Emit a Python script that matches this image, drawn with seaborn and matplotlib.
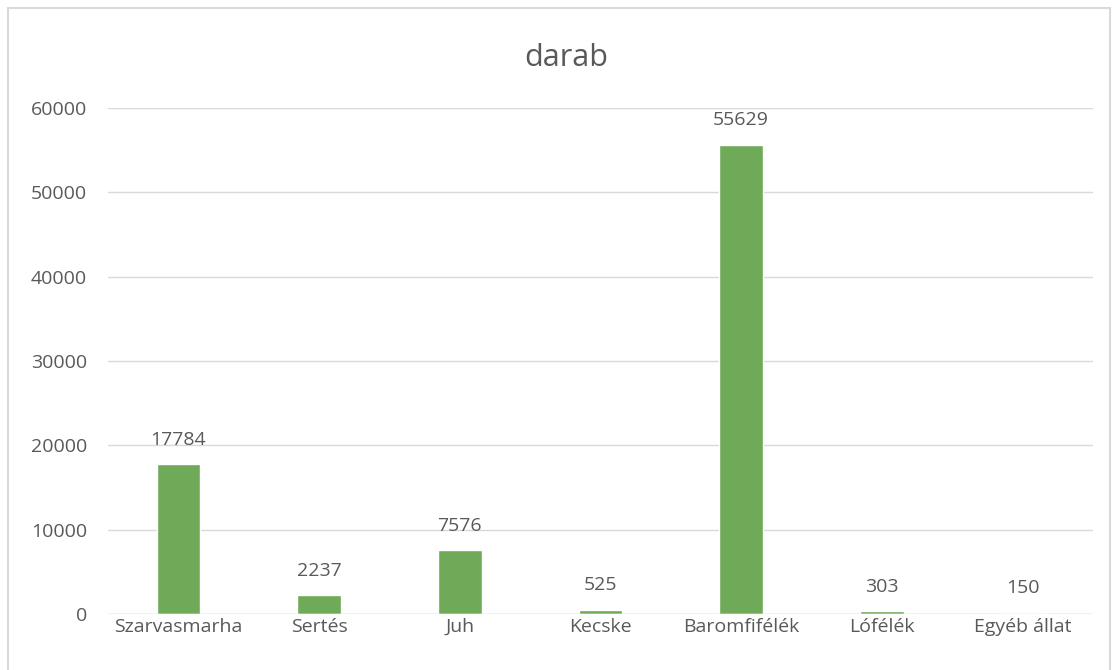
import matplotlib.pyplot as plt
import seaborn as sns
import pandas as pd
from matplotlib.patches import Rectangle

categories = ['Szarvasmarha', 'Sertés', 'Juh', 'Kecske', 'Baromfifélék', 'Lófélék', 'Egyéb állat']
darab = [17784, 2237, 7576, 525, 55629, 303, 150]

df = pd.DataFrame({'kategoria': categories, 'darab': darab})

sns.set_style("white")
plt.rcParams['font.family'] = ['Open Sans', 'DejaVu Sans']
txt = '#595959'

fig = plt.figure(figsize=(11.13, 6.7), dpi=100)
ax = fig.add_axes([0.097, 0.0836, 0.885, 0.7554])

sns.barplot(data=df, x='kategoria', y='darab', color='#6FAA58', width=0.31,
            saturation=1, ax=ax, zorder=3)

ax.set_ylim(0, 60000)
ax.set_yticks(range(0, 60001, 10000))
ax.yaxis.grid(True, color='#D9D9D9', linewidth=1, zorder=0)
for s in ax.spines.values():
    s.set_visible(False)
ax.axhline(0, color='#D9D9D9', linewidth=1, zorder=4)
ax.tick_params(axis='both', length=0, labelsize=14, labelcolor=txt)
ax.xaxis.set_tick_params(pad=3)
ax.yaxis.set_tick_params(pad=15)
ax.set_xlabel('')
ax.set_ylabel('')

ax.bar_label(ax.containers[0], labels=[str(v) for v in darab], padding=11,
             fontsize=14, color=txt)

fig.text(0.509, 0.914, 'darab', ha='center', va='center', fontsize=22, color=txt)

fig.patches.append(Rectangle((0.007, -0.02), 0.99, 1.008, transform=fig.transFigure,
                             fill=False, edgecolor='#D9D9D9', linewidth=1.5))

plt.savefig('out.png', dpi=100)
